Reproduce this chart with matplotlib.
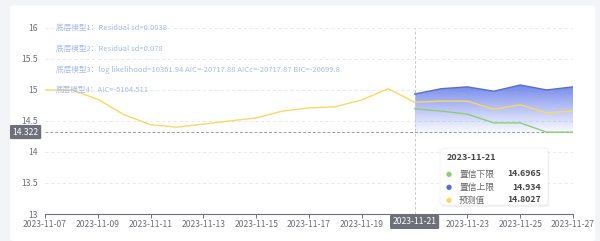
import numpy as np
import pandas as pd
import matplotlib
matplotlib.use("Agg")
import matplotlib.pyplot as plt
import matplotlib.dates as mdates
from matplotlib.patches import FancyBboxPatch, Polygon

plt.rcParams["font.family"] = ["Noto Sans CJK SC", "DejaVu Sans"]

# 历史数据
hist_dates = ["2023-11-07", "2023-11-08", "2023-11-09", "2023-11-10", "2023-11-11",
              "2023-11-12", "2023-11-13", "2023-11-14", "2023-11-15", "2023-11-16",
              "2023-11-17", "2023-11-18", "2023-11-19", "2023-11-20", "2023-11-21"]
hist_values = [15.0, 15.0, 14.85, 14.6, 14.44, 14.4, 14.45, 14.5, 14.55, 14.66,
               14.71, 14.73, 14.84, 15.02, 14.8027]

# 预测数据
fc_dates = ["2023-11-21", "2023-11-22", "2023-11-23", "2023-11-24",
            "2023-11-25", "2023-11-26", "2023-11-27"]
fc_pred = [14.8027, 14.82, 14.82, 14.69, 14.76, 14.63, 14.66]
fc_upper = [14.934, 15.02, 15.05, 14.98, 15.08, 15.0, 15.05]
fc_lower = [14.6965, 14.66, 14.61, 14.47, 14.47, 14.32, 14.32]

mark_value = 14.322
mark_date = "2023-11-21"
tick_dates = ["2023-11-07", "2023-11-09", "2023-11-11", "2023-11-13", "2023-11-15",
              "2023-11-17", "2023-11-19", "2023-11-21", "2023-11-23", "2023-11-25",
              "2023-11-27"]
y_ticks = [13, 13.5, 14, 14.5, 15, 15.5, 16]

notes = ["底层模型1：Residual sd=0.0038",
         "底层模型2：Residual sd=0.078",
         "底层模型3：log likelihood=10361.94 AIC=-20717.88 AICc=-20717.87 BIC=-20699.8",
         "底层模型4：AIC=-5164.511"]

YELLOW = "#fad860"
GREEN = "#91cc75"
BLUE = "#5470c6"
FILL = "#6a80ea"
AXIS = "#6e7079"

hd = pd.to_datetime(hist_dates)
fd = pd.to_datetime(fc_dates)

fig = plt.figure(figsize=(6, 2.41), dpi=100)
fig.patch.set_facecolor("#f3f4f8")
card = FancyBboxPatch((0.017, 0.0), 0.975, 0.978, boxstyle="round,pad=0,rounding_size=0.008",
                      transform=fig.transFigure, facecolor="white", edgecolor="none", zorder=-5)
fig.patches.append(card)

ax = fig.add_axes([0.075, 0.112, 0.88, 0.772])
ax.set_facecolor("none")
x0 = mdates.date2num(pd.Timestamp(hist_dates[0]))
x1 = mdates.date2num(pd.Timestamp(fc_dates[-1]))
ax.set_xlim(x0, x1)
ax.set_ylim(13, 16)

# 网格
for v in y_ticks[1:]:
    ax.axhline(v, color="#e6e8ee", lw=0.7, ls=(0, (3, 3)), zorder=0)

# 置信区间渐变填充
fx = mdates.date2num(fd)
bottom = 14.25
verts = list(zip(fx, fc_upper)) + [(fx[-1], bottom), (fx[0], bottom)]
poly = Polygon(verts, closed=True, facecolor="none", edgecolor="none")
ax.add_patch(poly)
grad = np.zeros((100, 2, 4))
c = matplotlib.colors.to_rgba(FILL)
alpha = np.linspace(0.0, 1.0, 100)[:, None]
grad[:, :, 0] = c[0]
grad[:, :, 1] = c[1]
grad[:, :, 2] = c[2]
grad[:, :, 3] = 0.95 * alpha ** 1.1
im = ax.imshow(grad, extent=[fx[0], fx[-1], bottom, max(fc_upper)], origin="lower",
               aspect="auto", zorder=1, interpolation="bilinear")
im.set_clip_path(poly)

ax.plot(fd, fc_upper, color=BLUE, lw=1.0, zorder=3)
ax.plot(fd, fc_lower, color=GREEN, lw=1.0, zorder=3)
ax.plot(fd, fc_pred, color=YELLOW, lw=1.0, zorder=3)
ax.plot(hd, hist_values, color=YELLOW, lw=1.0, zorder=3)

# 参考线
ax.axhline(mark_value, color="#9a9ca3", lw=0.7, ls=(0, (3, 2)), zorder=2)
ax.axvline(pd.Timestamp(mark_date), ymax=1.0, color="#c8cad0", lw=0.7, ls=(0, (3, 2)), zorder=2)

# 坐标轴
for s in ["top", "right", "left"]:
    ax.spines[s].set_visible(False)
ax.spines["bottom"].set_color(AXIS)
ax.spines["bottom"].set_linewidth(0.8)
ax.set_xticks(pd.to_datetime(tick_dates))
ax.set_xticklabels([d if d != mark_date else "" for d in tick_dates])
ax.set_yticks(y_ticks)
ax.set_yticklabels([f"{v:g}" for v in y_ticks])
ax.tick_params(axis="x", labelsize=6.2, colors=AXIS, length=3, width=0.7, pad=1.5)
ax.tick_params(axis="y", labelsize=6.2, colors=AXIS, length=0, pad=5)

# 标签框
ax.text(pd.Timestamp(mark_date), 12.945, mark_date, ha="center", va="top", fontsize=6.2,
        color="white", zorder=6,
        bbox=dict(boxstyle="round,pad=0.3,rounding_size=0.15", fc=AXIS, ec="none"))
ax.text(-0.012, mark_value, f"{mark_value}", transform=ax.get_yaxis_transform(),
        ha="right", va="center", fontsize=6.2, color="white", zorder=6, clip_on=False,
        bbox=dict(boxstyle="round,pad=0.3,rounding_size=0.15", fc=AXIS, ec="none"))

# 模型说明
for i, t in enumerate(notes):
    fig.text(56 / 600, 1 - (28 + i * 20.7) / 241, t, fontsize=5.5, color="#a8bce9",
             ha="left", va="center")

# 提示框
tip = FancyBboxPatch((440 / 600, 1 - 205 / 241), 108 / 600, 57 / 241,
                     boxstyle="round,pad=0,rounding_size=0.01", transform=fig.transFigure,
                     facecolor="white", edgecolor="#eeeeee", lw=0.5, zorder=10)
shadow = FancyBboxPatch((440 / 600 + 0.002, 1 - 207 / 241), 108 / 600, 57 / 241,
                        boxstyle="round,pad=0,rounding_size=0.01", transform=fig.transFigure,
                        facecolor="#000000", alpha=0.06, edgecolor="none", zorder=9)
fig.patches.extend([shadow, tip])
fig.text(447 / 600, 1 - 157 / 241, mark_date, fontsize=6.5, color="#464646",
         fontweight="bold", va="center", zorder=11)
rows = [("置信下限", fc_lower[0], GREEN), ("置信上限", fc_upper[0], BLUE),
        ("预测值", fc_pred[0], YELLOW)]
for i, (name, val, col) in enumerate(rows):
    yy = 1 - (174 + i * 13) / 241
    fig.text(449 / 600, yy, "●", fontsize=5, color=col, ha="center", va="center", zorder=11,
             family="DejaVu Sans")
    fig.text(459 / 600, yy, name, fontsize=6.3, color="#666666", va="center", zorder=11)
    fig.text(541 / 600, yy, f"{val:g}", fontsize=6.3, color="#464646", fontweight="bold",
             ha="right", va="center", zorder=11)

fig.savefig("out.png", dpi=100)
